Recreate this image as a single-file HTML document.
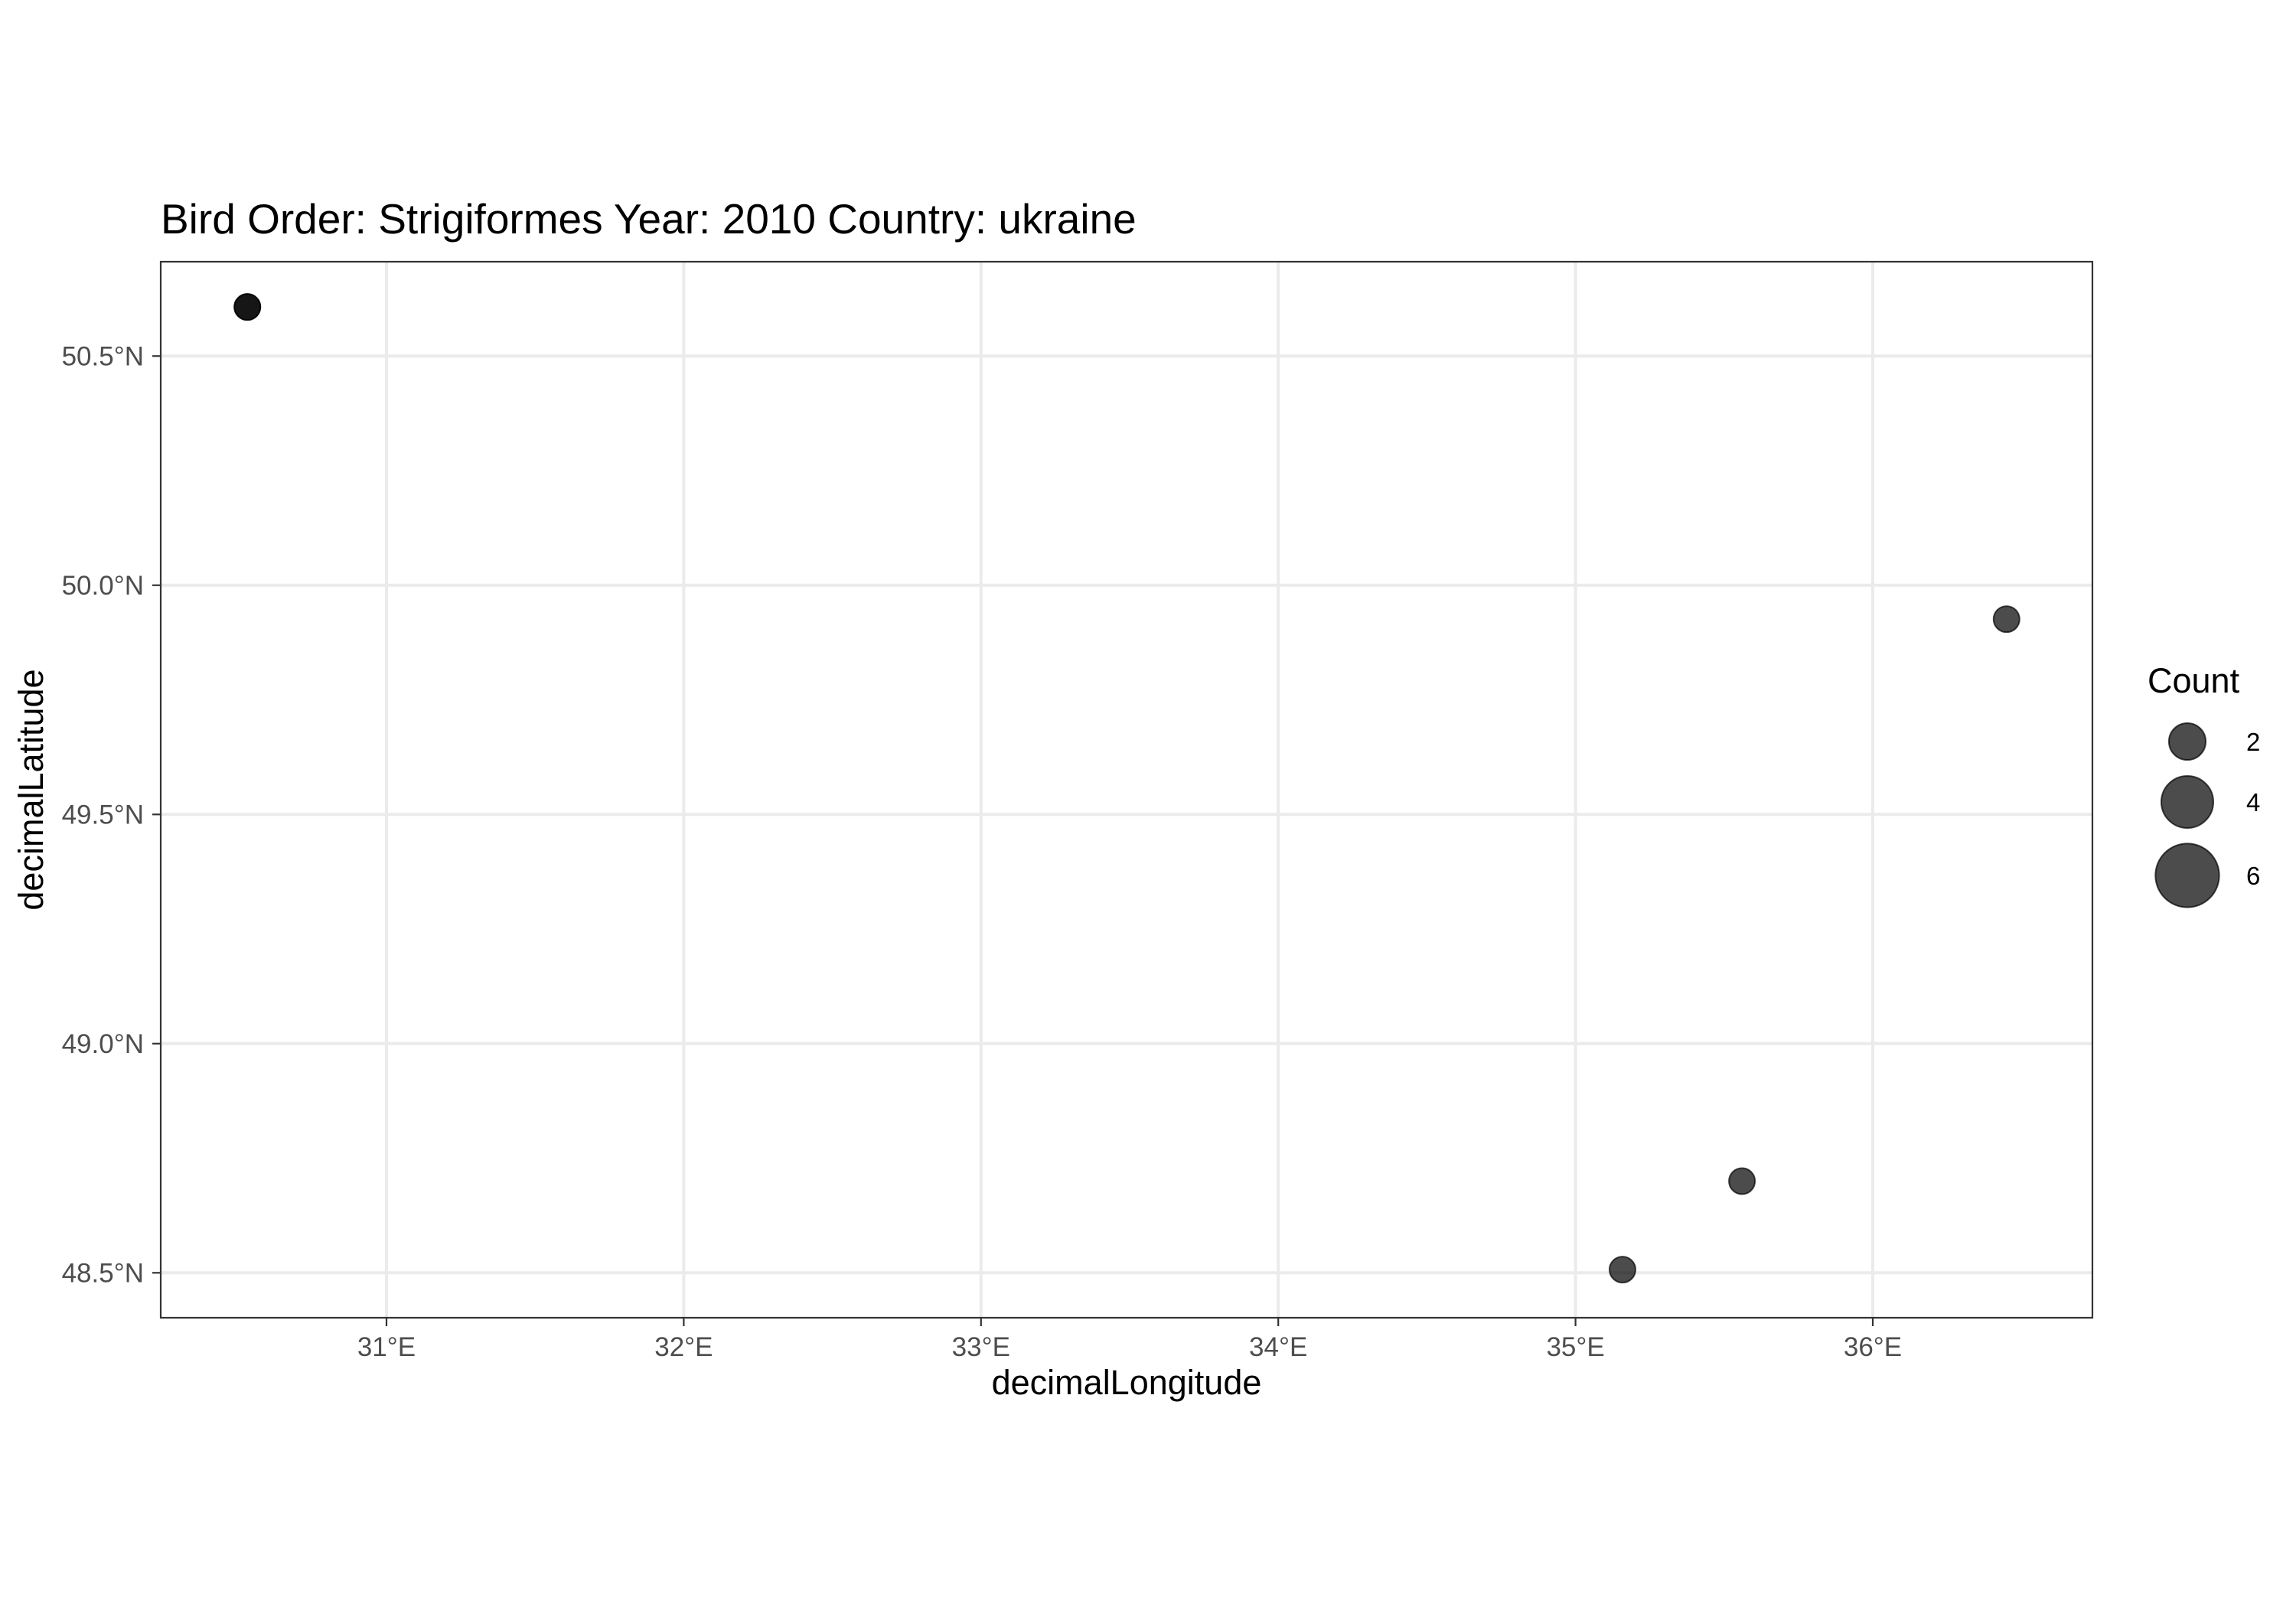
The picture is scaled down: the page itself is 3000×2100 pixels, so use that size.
<!DOCTYPE html>
<html><head><meta charset="utf-8"><style>
html,body{margin:0;padding:0;background:#fff;}
svg{display:block;font-family:"Liberation Sans",Arial,sans-serif;}
</style></head><body>
<svg id="chart" width="3000" height="2100" viewBox="0 0 3000 2100" xmlns="http://www.w3.org/2000/svg">
<rect x="0" y="0" width="3000" height="2100" fill="#fff"/>
<text x="210" y="305" font-size="55" fill="#000">Bird Order: Strigiformes Year: 2010 Country: ukraine</text>
<g id="grid"></g>
<g id="points"></g>
<rect x="210" y="342" width="2524" height="1380" fill="none" stroke="#333" stroke-width="2.2"/>
<g id="axes"></g>
<text x="1472" y="1822" font-size="45" text-anchor="middle" fill="#000">decimalLongitude</text>
<text x="0" y="0" font-size="45" text-anchor="middle" fill="#000" transform="translate(56,1032) rotate(-90)">decimalLatitude</text>
<g id="legend">
<text x="2806" y="905" font-size="45" fill="#000">Count</text>
</g>
</svg>
<script>
const lonTicks=[31,32,33,34,35,36];
const latTicks=[48.5,49.0,49.5,50.0,50.5];
const lonValues=[30.532,30.532,35.158,35.56,36.45];
const latValues=[50.607,50.607,48.507,48.70,49.926];
const countValues=[1,1,1,1,1];
const legendCounts=[2,4,6];

const NS="http://www.w3.org/2000/svg";
const L=210,R=2734,T=342,B=1722;
const lonMin=30.2405,lonMax=36.7389,latMin=48.402,latMax=50.7058;
function xs(v){return L+(v-lonMin)/(lonMax-lonMin)*(R-L);}
function ys(v){return B-(v-latMin)/(latMax-latMin)*(B-T);}
function rs(c){return 17*Math.sqrt(c);}
function mk(tag,attrs,parent){const e=document.createElementNS(NS,tag);for(const k in attrs)e.setAttribute(k,attrs[k]);parent.appendChild(e);return e;}
const grid=document.getElementById('grid'),axes=document.getElementById('axes'),pts=document.getElementById('points'),leg=document.getElementById('legend');
lonTicks.forEach(t=>{
  const x=xs(t);
  const g=mk('line',{x1:x,x2:x,y1:T,y2:B,stroke:'#ebebeb','stroke-width':4},grid);
  
  
  const tk=mk('line',{x1:x,x2:x,y1:B,y2:B+11,stroke:'#333','stroke-width':2.2},axes);
  
  
  const tx=mk('text',{x:x,y:B+50,'font-size':35,'text-anchor':'middle',fill:'#4d4d4d'},axes);
  tx.textContent=t+'°E';
  
  
});
latTicks.forEach(t=>{
  const y=ys(t);
  const g=mk('line',{x1:L,x2:R,y1:y,y2:y,stroke:'#ebebeb','stroke-width':4},grid);
  
  
  const tk=mk('line',{x1:L-11,x2:L,y1:y,y2:y,stroke:'#333','stroke-width':2.2},axes);
  
  
  const tx=mk('text',{x:L-22,y:y+12,'font-size':35,'text-anchor':'end',fill:'#4d4d4d'},axes);
  tx.textContent=t.toFixed(1)+'°N';
  
  
});
lonValues.forEach((v,i)=>{
  const c=mk('circle',{cx:xs(v),cy:ys(latValues[i]),r:rs(countValues[i]),fill:'#000','fill-opacity':0.7,stroke:'#000','stroke-opacity':0.7,'stroke-width':2},pts);
  
  
});
const legY=[969,1048,1144];
legendCounts.forEach((c,i)=>{
  const k=mk('circle',{cx:2858,cy:legY[i],r:rs(c),fill:'#000','fill-opacity':0.7,stroke:'#000','stroke-opacity':0.7,'stroke-width':2},leg);
  
  
  const t=mk('text',{x:2935,y:legY[i]+12,'font-size':33,fill:'#000'},leg);
  t.textContent=c;
  
  
});
</script>
</body></html>
